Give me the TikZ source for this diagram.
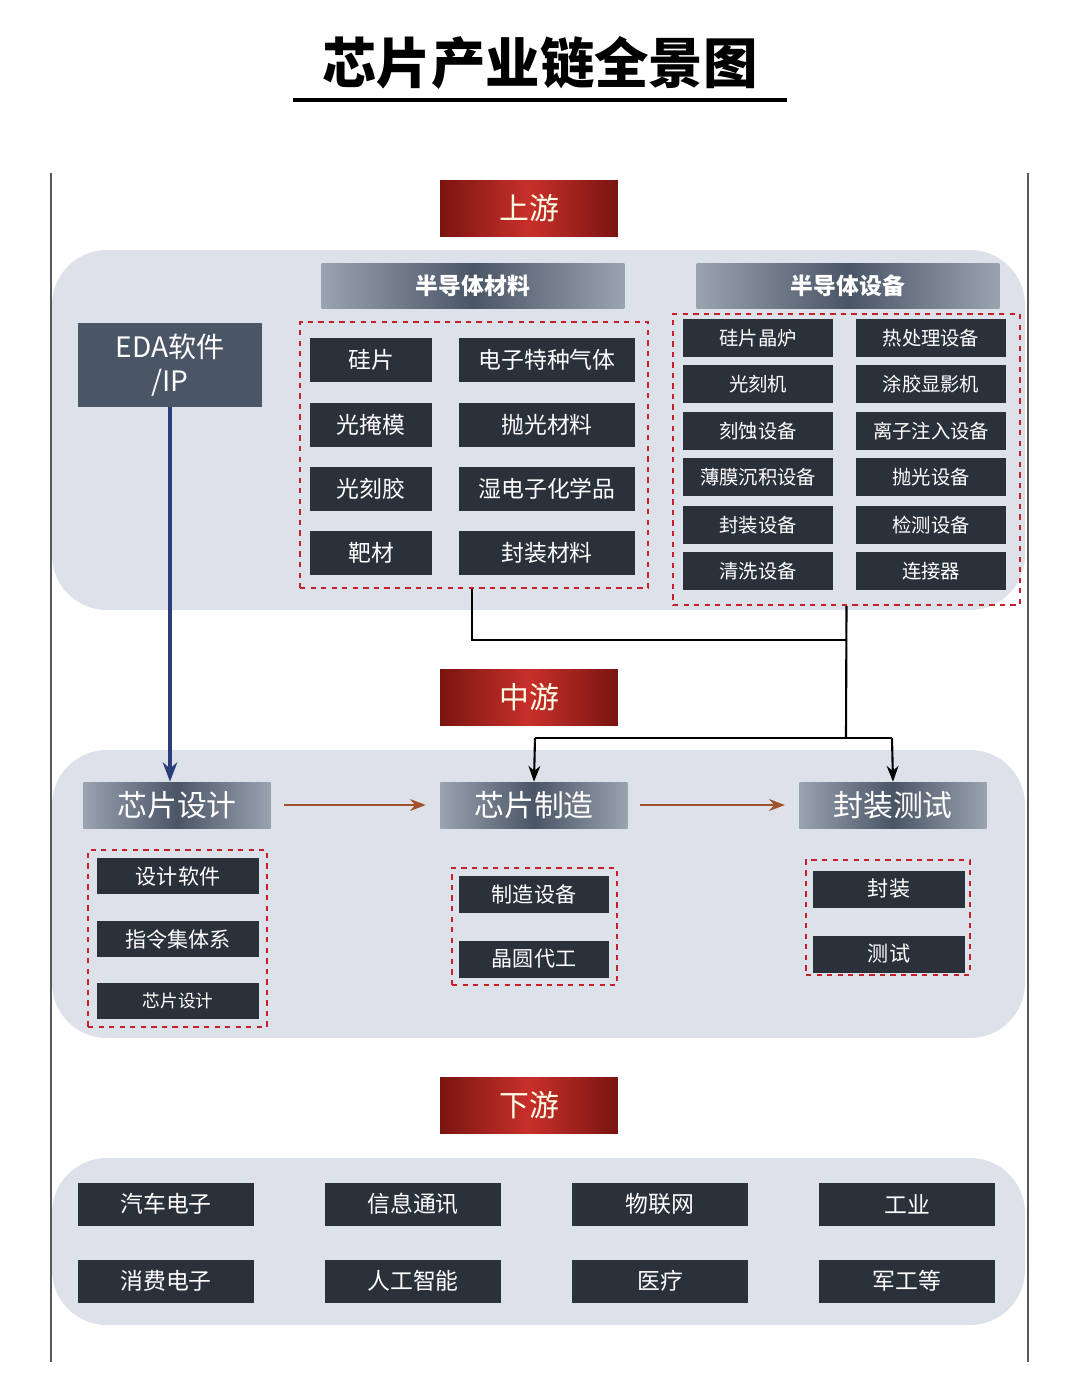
\documentclass[tikz,border=0pt]{standalone}
\usepackage{fontspec}
\setmainfont{Noto Sans CJK SC}
\usetikzlibrary{arrows.meta}
\definecolor{panel}{HTML}{DDE2EA}
\definecolor{itemc}{HTML}{2B313B}
\definecolor{hdr}{HTML}{4A5566}
\definecolor{hdrl}{HTML}{9AA3B0}
\definecolor{redl}{HTML}{C8302A}
\definecolor{redd}{HTML}{7A1410}
\definecolor{dred}{HTML}{C8202A}
\definecolor{brn}{HTML}{A0522D}
\definecolor{blu}{HTML}{2C3E7A}
\tikzset{
 px/.style={x=0.02cm,y=-0.02cm},
 panelbox/.style={fill=panel,rounded corners=1.1cm,draw=none},
 item/.style={fill=itemc,text=white,inner sep=0pt,minimum height=0.88cm,font=\fontsize{13}{15}\selectfont},
 eitem/.style={item,minimum height=0.76cm,minimum width=3.0cm,font=\fontsize{11}{13}\selectfont},
 hdrbar/.style={left color=hdrl,right color=hdrl,middle color=hdr,text=white,inner sep=0pt,minimum height=0.9cm,font=\bfseries\fontsize{13}{15}\selectfont},
 midhdr/.style={hdrbar,minimum width=3.75cm,minimum height=0.92cm,font=\fontsize{17}{19}\selectfont},
 redlab/.style={left color=redd,right color=redd,middle color=redl,text=white!90!yellow,inner sep=0pt,minimum width=3.56cm,minimum height=1.12cm,font=\fontsize{17}{19}\selectfont},
 dbox/.style={draw=dred,dashed,line width=1.4pt,fill=none},
 conn/.style={line width=1.2pt,black},
}
\begin{document}
\begin{tikzpicture}[px]
\useasboundingbox (0,0) rectangle (1080,1374);
\fill[white] (0,0) rectangle (1080,1374);
\node[font=\bfseries\fontsize{31}{35}\selectfont] (title) at (540,63) {芯片产业链全景图};
\draw[line width=2.5pt] (293,100) -- (787,100);
\draw[line width=1pt,gray!70!black] (51,173) -- (51,1362);
\draw[line width=1pt,gray!70!black] (1028,173) -- (1028,1362);
% panels
\path[panelbox] (52,250) rectangle (1025,610);
\path[panelbox] (52,750) rectangle (1025,1038);
\path[panelbox] (52,1158) rectangle (1025,1325);
% labels
\node[redlab] (up) at (529,208) {上游};
\node[redlab] (mid) at (529,697) {中游};
\node[redlab] (down) at (529,1105) {下游};
% upstream
\node[hdrbar,minimum width=6.06cm] (mat) at (473,286) {半导体材料};
\node[hdrbar,minimum width=6.06cm] (equ) at (848,286) {半导体设备};
\node[fill=hdr,text=white,minimum width=3.68cm,minimum height=1.68cm,inner sep=0pt,align=center,font=\fontsize{16}{19}\selectfont] (eda) at (170,365) {EDA软件\\/IP};
\node[dbox,minimum width=6.96cm,minimum height=5.32cm] (matbox) at (474,455) {};
\foreach \n/\a/\b/\y in {1/硅片/电子特种气体/360,2/光掩模/抛光材料/425,3/光刻胶/湿电子化学品/489,4/靶材/封装材料/553}{
 \node[item,minimum width=2.44cm] (ml\n) at (371,\y) {\a};
 \node[item,minimum width=3.54cm] (mr\n) at (547,\y) {\b};
}
\node[dbox,minimum width=6.94cm,minimum height=5.82cm] (equbox) at (846.5,459.5) {};
\foreach \n/\a/\b/\y in {1/硅片晶炉/热处理设备/338,2/光刻机/涂胶显影机/384,3/刻蚀设备/离子注入设备/431,4/薄膜沉积设备/抛光设备/477,5/封装设备/检测设备/525,6/清洗设备/连接器/571}{
 \node[eitem] (el\n) at (758,\y) {\a};
 \node[eitem] (er\n) at (931,\y) {\b};
}
\coordinate (j1) at (472,640);
\coordinate (j2) at (846,640);
\coordinate (j3) at (846,738);
\coordinate (j4) at (535,738);
\coordinate (j5) at (892,738);
\draw[conn] (matbox.south -| j1) -- (j1) -- (j2);
\draw[conn] (equbox.south) -- (j3);
\draw[conn] (j4) -- (j5);
% midstream
\node[midhdr] (des) at (177,805) {芯片设计};
\node[midhdr] (man) at (534,805) {芯片制造};
\node[midhdr] (pkg) at (893,805) {封装测试};
\draw[conn,-{Stealth[length=9pt]}] (j4) -- (man.north);
\draw[conn,-{Stealth[length=9pt]}] (j5) -- (pkg.north);
\draw[line width=2pt,blu,-{Stealth[length=11pt]}] (eda.south) -- (des.north -| eda.south);
\draw[line width=1.6pt,brn,-{Stealth[length=9pt]}] (des.east)++(13,0) -- ([xshift=-8]man.west);
\draw[line width=1.6pt,brn,-{Stealth[length=9pt]}] (man.east)++(12,0) -- ([xshift=-8]pkg.west);
\node[dbox,minimum width=3.58cm,minimum height=3.54cm] (desbox) at (177.5,938.5) {};
\node[item,minimum width=3.24cm,minimum height=0.72cm,font=\fontsize{12}{14}\selectfont] (d1) at (178,876) {设计软件};
\node[item,minimum width=3.24cm,minimum height=0.72cm,font=\fontsize{12}{14}\selectfont] (d2) at (178,939) {指令集体系};
\node[item,minimum width=3.24cm,minimum height=0.72cm,font=\fontsize{10}{12}\selectfont] (d3) at (178,1001) {芯片设计};
\node[dbox,minimum width=3.3cm,minimum height=2.34cm] (manbox) at (534.5,926.5) {};
\node[item,minimum width=3.02cm,minimum height=0.74cm,font=\fontsize{12}{14}\selectfont] (m1) at (534,894) {制造设备};
\node[item,minimum width=3.02cm,minimum height=0.74cm,font=\fontsize{12}{14}\selectfont] (m2) at (534,959) {晶圆代工};
\node[dbox,minimum width=3.28cm,minimum height=2.3cm] (pkgbox) at (888,917.5) {};
\node[item,minimum width=3.04cm,minimum height=0.74cm,font=\fontsize{12}{14}\selectfont] (p1) at (889,889) {封装};
\node[item,minimum width=3.04cm,minimum height=0.74cm,font=\fontsize{12}{14}\selectfont] (p2) at (889,954) {测试};
% downstream
\foreach \n/\t/\x/\y in {1/汽车电子/166/1204,2/信息通讯/413/1204,3/物联网/660/1204,4/工业/907/1204,5/消费电子/166/1281,6/人工智能/413/1281,7/医疗/660/1281,8/军工等/907/1281}{
 \node[item,minimum width=3.54cm,minimum height=0.86cm] (ds\n) at (\x,\y) {\t};
}
\end{tikzpicture}
\end{document}
